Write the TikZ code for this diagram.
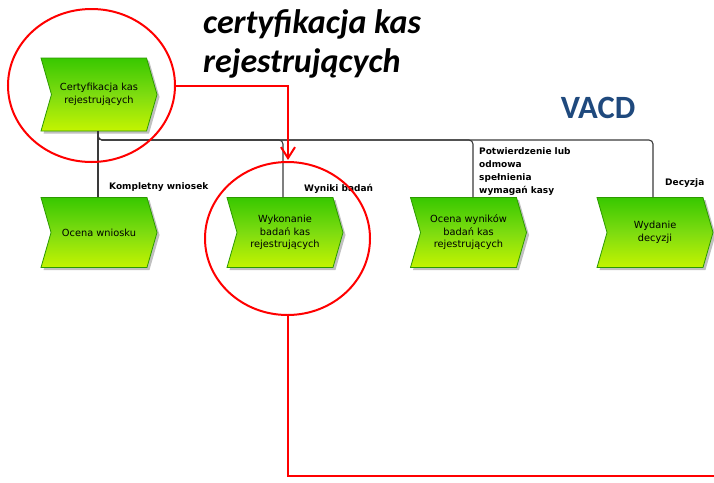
\documentclass[tikz,border=0pt]{standalone}
\usepackage{fontspec}
\setmainfont{DejaVu Sans}
\newfontfamily\headfont{Carlito}
\usetikzlibrary{shapes.symbols,shapes.geometric,shadows,arrows.meta,calc}

\definecolor{fnTop}{HTML}{38C800}
\definecolor{fnMid}{HTML}{7EDC10}
\definecolor{fnBot}{HTML}{C4F400}
\definecolor{fnEdge}{HTML}{2C9A00}
\definecolor{linkGray}{HTML}{3A3A3A}
\definecolor{vacdBlue}{RGB}{31,73,125}

\tikzset{
  funcbox/.style={signal, signal to=east, signal from=west, signal pointer angle=148,
    minimum width=116pt, minimum height=70pt, inner sep=0pt,
    draw=fnEdge, line width=0.8pt,
    top color=fnTop, bottom color=fnBot, middle color=fnMid,
    drop shadow={shadow xshift=2.5pt, shadow yshift=-2.5pt, fill=black!45, opacity=0.55},
    align=center, font=\fontsize{9.8}{12.5}\selectfont, text=black},
  link/.style={draw=linkGray, line width=1.1pt, rounded corners=4pt},
  linklabel/.style={font=\bfseries\fontsize{9}{13.3}\selectfont, inner sep=0pt, align=left},
  headline/.style={anchor=base west, inner sep=0pt, font=\headfont\bfseries\itshape\fontsize{34}{39}\selectfont},
  marker/.style={draw=red, line width=2pt, ellipse, inner sep=0pt},
  redpath/.style={draw=red, line width=2pt},
}

\begin{document}
\begin{tikzpicture}[x=1pt, y=-1pt]
\useasboundingbox (0,0) rectangle (714,482);

% function boxes
\node[funcbox, minimum height=73pt] (cert) at (99,94.5) {Certyfikacja kas\\rejestrujących};
\node[funcbox] (ow)  at (99,232.5)  {Ocena wniosku};
\node[funcbox] (wyk) at (285,232.5) {Wykonanie\\badań kas\\rejestrujących};
\node[funcbox] (ocw) at (468.5,232.5) {Ocena wyników\\badań kas\\rejestrujących};
\node[funcbox] (wyd) at (655,232.5) {Wydanie\\decyzji};

% connectors from the certification step, sharing one bus line
\coordinate (bus) at (0,140);
\coordinate (cs) at ([xshift=-1pt]cert.south);
\coordinate (wykIn) at ([xshift=-2pt]wyk.north);
\coordinate (ocwIn) at ([xshift=4.5pt]ocw.north);
\coordinate (wydIn) at ([xshift=-2pt]wyd.north);
\draw[link, rounded corners=0pt] (cs) -- (cs |- ow.north);
\draw[link] (cs) |- (wykIn |- bus) -- (wykIn);
\draw[link] (cs) |- (ocwIn |- bus) -- (ocwIn);
\draw[link] (cs) |- (wydIn |- bus) -- (wydIn);

% connector labels
\node[linklabel, anchor=west] (l1) at (109,187.5) {Kompletny wniosek};
\node[linklabel, anchor=west] (l2) at (304,189) {Wyniki badań};
\node[linklabel, anchor=north west] (l3) at (479,147) {Potwierdzenie lub\\odmowa\\spełnienia\\wymagań kasy};
\node[linklabel, anchor=west] (l4) at (665,183) {Decyzja};

% headings
\node[headline] (title1) at (203,33) {certyfikacja kas};
\node[headline] (title2) at (203,72) {rejestrujących};
\node[anchor=center, inner sep=0pt, text=vacdBlue,
      font=\headfont\bfseries\fontsize{32.5}{32.5}\selectfont] (vacd) at (598,108) {VACD};

% red highlight marks
\node[marker, minimum width=167pt, minimum height=153pt] (c1) at (91.5,85.5) {};
\node[marker, minimum width=165pt, minimum height=153pt] (c2) at (287.5,238.5) {};
\coordinate (tip) at (288,160);
\coordinate (edge) at (716,476);
\draw[redpath, -{Straight Barb[length=11pt, width=14pt, line width=2pt]}] (c1.east) -| (tip);
\draw[redpath] (c2.south) |- (edge);
\end{tikzpicture}
\end{document}
